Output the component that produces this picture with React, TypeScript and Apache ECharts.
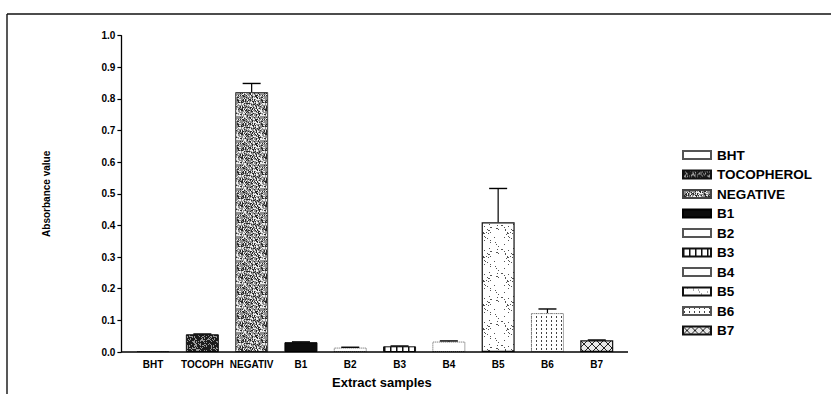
import React, { useEffect, useRef } from "react";
import * as echarts from "echarts";

const categories = ["BHT", "TOCOPH", "NEGATIV", "B1", "B2", "B3", "B4", "B5", "B6", "B7"];
const seriesNames = ["BHT", "TOCOPHEROL", "NEGATIVE", "B1", "B2", "B3", "B4", "B5", "B6", "B7"];
const values = [0.003, 0.056, 0.822, 0.031, 0.014, 0.018, 0.033, 0.41, 0.123, 0.037];
const errors = [0.0, 0.001, 0.027, 0.001, 0.001, 0.001, 0.002, 0.107, 0.013, 0.001];
const yTicks = [0, 0.1, 0.2, 0.3, 0.4, 0.5, 0.6, 0.7, 0.8, 0.9, 1.0];

function hash(i: number, j: number, s: number) {
  let h = (i * 374761393 + j * 668265263 + s * 2246822519) | 0;
  h = (h ^ (h >>> 13)) * 1274126177;
  h = h ^ (h >>> 16);
  return ((h >>> 0) % 1000) / 1000;
}

function makeCanvas(w: number, h: number, draw: (ctx: CanvasRenderingContext2D) => void) {
  const c = document.createElement("canvas");
  c.width = w;
  c.height = h;
  const ctx = c.getContext("2d")!;
  draw(ctx);
  return { image: c, repeat: "repeat" };
}

function speckle(bg: string, layers: [string, number][], seed: number) {
  return makeCanvas(24, 24, (ctx) => {
    ctx.fillStyle = bg;
    ctx.fillRect(0, 0, 24, 24);
    layers.forEach(([col, d], k) => {
      ctx.fillStyle = col;
      for (let i = 0; i < 24; i++)
        for (let j = 0; j < 24; j++)
          if (hash(i, j, seed + k * 17) < d) ctx.fillRect(i, j, 1, 1);
    });
  });
}

function buildPatterns() {
  const white = "#ffffff";
  const vstripes = makeCanvas(6, 6, (ctx) => {
    ctx.fillStyle = "#fff";
    ctx.fillRect(0, 0, 6, 6);
    ctx.fillStyle = "#111";
    ctx.fillRect(0, 0, 1.5, 6);
  });
  const vdots = makeCanvas(5, 4, (ctx) => {
    ctx.fillStyle = "#fff";
    ctx.fillRect(0, 0, 5, 4);
    ctx.fillStyle = "#444";
    ctx.fillRect(1, 0, 1, 2);
  });
  const hatch = makeCanvas(8, 8, (ctx) => {
    ctx.fillStyle = "#e8e8e8";
    ctx.fillRect(0, 0, 8, 8);
    ctx.strokeStyle = "#222";
    ctx.lineWidth = 1;
    ctx.beginPath();
    ctx.moveTo(0, 0);
    ctx.lineTo(8, 8);
    ctx.moveTo(8, 0);
    ctx.lineTo(0, 8);
    ctx.stroke();
  });
  return [
    { color: white, borderColor: "#555", borderType: "dotted", borderWidth: 1 },
    { color: speckle("#1c1c1c", [["#9a9a9a", 0.3]], 3), borderColor: "#111", borderWidth: 1 },
    { color: speckle("#8e8e8e", [["#2a2a2a", 0.3], ["#eeeeee", 0.25]], 7), borderColor: "#444", borderWidth: 1 },
    { color: "#0d0d0d", borderColor: "#000", borderWidth: 1 },
    { color: white, borderColor: "#555", borderType: "dotted", borderWidth: 1 },
    { color: vstripes, borderColor: "#111", borderWidth: 1 },
    { color: white, borderColor: "#555", borderType: "dotted", borderWidth: 1 },
    { color: speckle("#ffffff", [["#555", 0.05]], 11), borderColor: "#111", borderWidth: 1.2 },
    { color: vdots, borderColor: "#555", borderType: "dotted", borderWidth: 1 },
    { color: hatch, borderColor: "#111", borderWidth: 1.2 },
  ];
}

export default function App() {
  const ref = useRef<HTMLDivElement>(null);
  useEffect(() => {
    if (!ref.current) return;
    const chart = echarts.init(ref.current, null, { renderer: "svg" });
    const styles = buildPatterns();
    const gridLeft = 128.4;
    const gridWidth = 493;
    const gridTop = 35.7;
    const gridHeight = 316.3;
    const barSeries = seriesNames.map((name, i) => ({
      name,
      type: "bar",
      stack: "all",
      barWidth: 33,
      itemStyle: styles[i],
      data: categories.map((_, j) => (j === i ? values[i] : null)),
    }));
    const errData = values
      .map((v, i) => [i, v, v + errors[i]])
      .filter((d) => d[2] - d[1] > 0);
    chart.setOption({
      animation: false,
      backgroundColor: "#ffffff",
      textStyle: { fontFamily: "Liberation Sans, Arial, sans-serif", color: "#000" },
      grid: { left: gridLeft, width: gridWidth, top: gridTop, height: gridHeight },
      legend: {
        orient: "vertical",
        left: 677,
        top: 143,
        itemWidth: 28,
        itemHeight: 8,
        itemGap: 5.5,
        icon: "rect",
        textStyle: { fontSize: 13.5, fontWeight: "bold", color: "#000", padding: [0, 0, 0, 1] },
        data: seriesNames,
      },
      xAxis: {
        type: "category",
        data: categories,
        axisLine: { show: false },
        axisTick: { show: false },
        axisLabel: { interval: 0, fontSize: 10, fontWeight: "bold", color: "#000", margin: 7 },
        name: "Extract samples",
        nameLocation: "middle",
        nameGap: 24,
        nameTextStyle: { fontSize: 13, fontWeight: "bold", color: "#000", padding: [0, 0, 0, 14] },
      },
      yAxis: {
        type: "value",
        min: 0,
        max: 1,
        interval: 0.1,
        offset: 7,
        splitLine: { show: false },
        axisLine: { show: true, lineStyle: { color: "#000", width: 1.3 } },
        axisTick: { show: true, length: 4, lineStyle: { color: "#000", width: 1.2 } },
        axisLabel: {
          fontSize: 10,
          fontWeight: "bold",
          color: "#000",
          margin: 6,
          formatter: (v: number) => v.toFixed(1),
        },
        name: "Absorbance value",
        nameLocation: "middle",
        nameGap: 70,
        nameRotate: 90,
        nameTextStyle: { fontSize: 10, fontWeight: "bold", color: "#000" },
      },
      series: [
        ...barSeries,
        {
          type: "custom",
          name: "err",
          silent: true,
          z: 5,
          data: errData,
          renderItem: (_p: any, api: any) => {
            const x = api.value(0);
            const lo = api.coord([x, api.value(1)]);
            const hi = api.coord([x, api.value(2)]);
            const half = 9;
            return {
              type: "group",
              children: [
                { type: "line", shape: { x1: lo[0], y1: lo[1], x2: hi[0], y2: hi[1] }, style: { stroke: "#000", lineWidth: 1.2 } },
                { type: "line", shape: { x1: hi[0] - half, y1: hi[1], x2: hi[0] + half, y2: hi[1] }, style: { stroke: "#000", lineWidth: 1.4 } },
              ],
            };
          },
        },
      ],
      graphic: [
        { type: "line", shape: { x1: 7, y1: 14, x2: 831, y2: 14 }, style: { stroke: "#111", lineWidth: 1.6 } },
        { type: "line", shape: { x1: 7, y1: 14, x2: 7, y2: 394 }, style: { stroke: "#111", lineWidth: 1.4 } },
        { type: "line", shape: { x1: 121.4, y1: 352, x2: 628, y2: 352 }, style: { stroke: "#000", lineWidth: 1.4 }, z: 10 },
      ],
    });
    return () => chart.dispose();
  }, []);
  return (
    <div
      ref={ref}
      style={{ position: "fixed", left: 0, top: 0, width: 831, height: 394, background: "#fff" }}
    />
  );
}
